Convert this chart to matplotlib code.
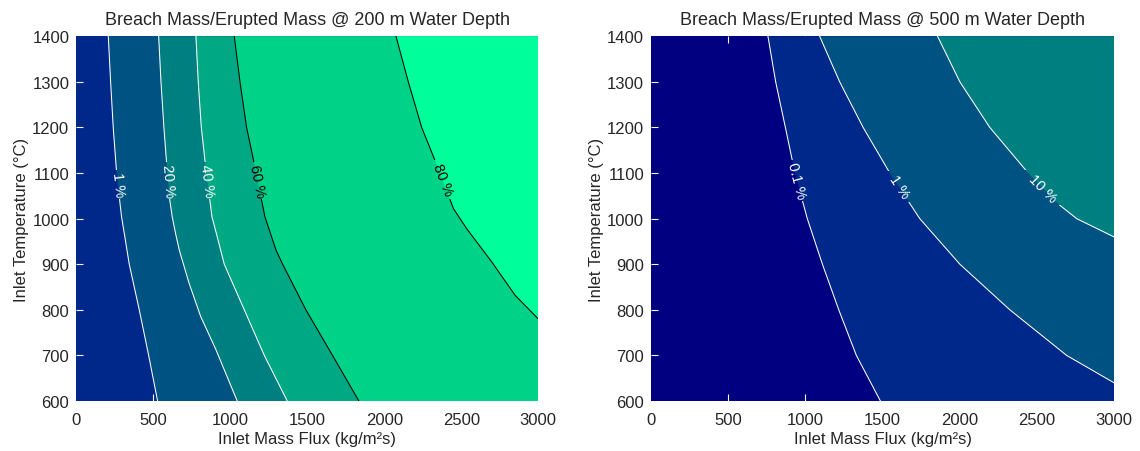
import numpy as np
import matplotlib
matplotlib.use("Agg")
import matplotlib.pyplot as plt
from matplotlib.path import Path
from matplotlib.patches import PathPatch
from matplotlib.transforms import IdentityTransform

plt.rcParams['font.family'] = ['Liberation Sans', 'DejaVu Sans']

# ---------------- data ----------------
X_MIN, X_MAX = 0, 3000
T_MIN, T_MAX = 600, 1400
x_ticks = [0, 500, 1000, 1500, 2000, 2500, 3000]
t_ticks = [600, 700, 800, 900, 1000, 1100, 1200, 1300, 1400]

# Left panel (200 m): contour lines, temperature (degC) -> mass flux
left_levels = ["1 %", "20 %", "40 %", "60 %", "80 %"]
left_T_1 = [1400, 1300, 1200, 1100, 1048, 1004, 967, 900, 800, 700, 600]
left_X_1 = [208, 223, 240, 262, 279, 294, 312, 344, 409, 470, 528]
left_T_20 = [1400, 1300, 1200, 1120, 1048, 1004, 967, 931, 859, 786, 714, 600]
left_X_20 = [535, 550, 569, 587, 604, 623, 645, 669, 732, 807, 905, 1045]
left_T_40 = [1400, 1300, 1200, 1120, 1004, 967, 900, 800, 700, 600]
left_X_40 = [777, 792, 812, 838, 881, 910, 961, 1091, 1221, 1370]
left_T_60 = [1400, 1300, 1200, 1120, 1004, 931, 900, 800, 700, 600]
left_X_60 = [1026, 1063, 1106, 1156, 1225, 1297, 1340, 1491, 1664, 1835]
left_T_80 = [1400, 1300, 1200, 1100, 1022, 978, 905, 832, 780]
left_X_80 = [2076, 2156, 2243, 2362, 2449, 2535, 2698, 2849, 3000]
left_label_T = [1075, 1084, 1084, 1084, 1086]
left_fill_colors = ['#00288A', '#005283', '#007F80', '#00A884', '#00D388', '#00FF9B']
left_line_colors = ['white', 'white', 'white', 'black', 'black']

# Right panel (500 m)
right_levels = ["0.1 %", "1 %", "10 %"]
right_T_01 = [1400, 1300, 1200, 1100, 1000, 900, 800, 700, 600]
right_X_01 = [757, 807, 870, 932, 1012, 1110, 1216, 1330, 1486]
right_T_1 = [1400, 1300, 1200, 1100, 1000, 900, 800, 700, 640]
right_X_1 = [1092, 1222, 1374, 1547, 1741, 2001, 2325, 2693, 3000]
right_T_10 = [1400, 1300, 1200, 1100, 1029, 1000, 960]
right_X_10 = [1856, 2001, 2195, 2444, 2650, 2758, 3000]
right_label_T = [1084, 1070, 1068]
right_fill_colors = ['#000080', '#00288A', '#005283', '#007F80']
right_line_colors = ['white', 'white', 'white']

titles = ["Breach Mass/Erupted Mass @ 200 m Water Depth",
          "Breach Mass/Erupted Mass @ 500 m Water Depth"]
xlabel = "Inlet Mass Flux (kg/m\u00b2s)"
ylabel = "Inlet Temperature (\u00b0C)"

TEXT = '#262626'

fig = plt.figure(figsize=(11.4, 4.52), dpi=100)
ax_l = fig.add_axes([0.0669, 0.1106, 0.4053, 0.8069])
ax_r = fig.add_axes([0.5712, 0.1106, 0.4060, 0.8069])


def draw_panel(ax, lines, levels, label_T, fills, line_colors, title):
    ax.set_xlim(X_MIN, X_MAX)
    ax.set_ylim(T_MIN, T_MAX)
    ax.fill([X_MIN, X_MAX, X_MAX, X_MIN], [T_MIN, T_MIN, T_MAX, T_MAX],
            color=fills[0], lw=0, zorder=1)
    for k, (T, X) in enumerate(lines):
        px = list(X)
        py = list(T)
        if T[-1] == T_MIN:
            px.append(X_MAX); py.append(T_MIN)
        px.append(X_MAX); py.append(T_MAX)
        ax.fill(px, py, color=fills[k + 1], lw=0, zorder=2 + k)
    line_objs = []
    texts = []
    for k, (T, X) in enumerate(lines):
        ln, = ax.plot(X, T, color=line_colors[k], lw=0.75, zorder=20,
                      solid_joinstyle='round')
        line_objs.append(ln)
        Ta = np.asarray(T, float)[::-1]
        Xa = np.asarray(X, float)[::-1]
        tl = label_T[k]
        xl = np.interp(tl, Ta, Xa)
        d = ax.transData.transform([[np.interp(tl + 30, Ta, Xa), tl + 30],
                                    [np.interp(tl - 30, Ta, Xa), tl - 30]])
        ang = np.degrees(np.arctan2(d[1, 1] - d[0, 1], d[1, 0] - d[0, 0]))
        t = ax.text(xl, tl, levels[k], color=line_colors[k], fontsize=10.5,
                    rotation=ang, rotation_mode='anchor', ha='center',
                    va='center', zorder=21)
        texts.append(t)
    ax.set_xticks(x_ticks)
    ax.set_yticks(t_ticks)
    ax.tick_params(direction='in', length=5, width=0.8, color='white',
                   labelcolor=TEXT, labelsize=12, top=True, right=True)
    ax.tick_params(axis='x', pad=8)
    ax.tick_params(axis='y', pad=5)
    for tk in (ax.xaxis.get_major_ticks()[0], ax.xaxis.get_major_ticks()[-1],
               ax.yaxis.get_major_ticks()[0], ax.yaxis.get_major_ticks()[-1]):
        tk.tick1line.set_visible(False)
        tk.tick2line.set_visible(False)
    for s in ax.spines.values():
        s.set_visible(False)
    ax.set_xlabel(xlabel, fontsize=12, color=TEXT, labelpad=3)
    ax.set_ylabel(ylabel, fontsize=12, color=TEXT, labelpad=2.5)
    ax.set_title(title, fontsize=13, color=TEXT, pad=9)
    return line_objs, texts


left_lines = [(left_T_1, left_X_1), (left_T_20, left_X_20), (left_T_40, left_X_40),
              (left_T_60, left_X_60), (left_T_80, left_X_80)]
right_lines = [(right_T_01, right_X_01), (right_T_1, right_X_1), (right_T_10, right_X_10)]

res_l = draw_panel(ax_l, left_lines, left_levels, left_label_T, left_fill_colors,
                   left_line_colors, titles[0])
res_r = draw_panel(ax_r, right_lines, right_levels, right_label_T, right_fill_colors,
                   right_line_colors, titles[1])

fig.canvas.draw()
renderer = fig.canvas.get_renderer()


def cut_gaps(ax, line_objs, texts):
    bb = ax.get_window_extent(renderer)
    for ln, t in zip(line_objs, texts):
        e = t.get_window_extent(renderer)
        pad = 1.0
        x0, y0, x1, y1 = e.x0 - pad, e.y0 - pad, e.x1 + pad, e.y1 + pad
        verts = [(bb.x0, bb.y0), (bb.x1, bb.y0), (bb.x1, bb.y1), (bb.x0, bb.y1), (bb.x0, bb.y0),
                 (x0, y0), (x0, y1), (x1, y1), (x1, y0), (x0, y0)]
        codes = [Path.MOVETO, Path.LINETO, Path.LINETO, Path.LINETO, Path.CLOSEPOLY,
                 Path.MOVETO, Path.LINETO, Path.LINETO, Path.LINETO, Path.CLOSEPOLY]
        patch = PathPatch(Path(verts, codes), transform=IdentityTransform())
        ln.set_clip_path(patch)


cut_gaps(ax_l, *res_l)
cut_gaps(ax_r, *res_r)

fig.savefig("out.png", dpi=100)
